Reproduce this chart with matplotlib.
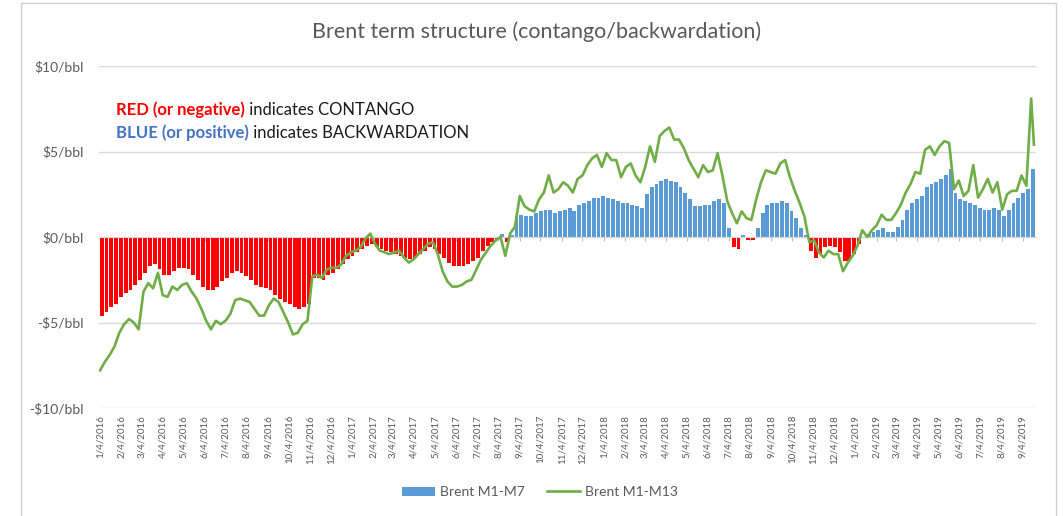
import matplotlib
matplotlib.use("Agg")
import matplotlib.pyplot as plt
import matplotlib.dates as mdates
import pandas as pd
from matplotlib.patches import Patch, Rectangle
from matplotlib.lines import Line2D

plt.rcParams['font.family'] = ['Lato', 'DejaVu Sans']

# weekly readings, $/bbl, first week starts Mon 2016-01-04
m1_m7 = [
    -4.6, -4.4, -4.1, -3.9, -3.5, -3.3, -3.1, -2.8, -2.5, -2.1,
    -1.7, -1.6, -1.9, -2.2, -2.2, -2.0, -1.8, -1.8, -1.9, -2.2,
    -2.5, -2.9, -3.1, -3.1, -2.9, -2.6, -2.4, -2.1, -2.0, -2.1,
    -2.3, -2.5, -2.8, -2.9, -3.0, -3.1, -3.4, -3.6, -3.8, -3.9,
    -4.1, -4.2, -4.1, -3.9, -2.4, -2.4, -2.5, -2.2, -2.1, -1.9,
    -1.6, -1.3, -1.1, -0.9, -0.7, -0.5, -0.4, -0.6, -0.7, -0.8,
    -0.9, -1.0, -1.1, -1.2, -1.3, -1.2, -1.0, -0.8, -0.6, -0.7,
    -1.0, -1.2, -1.5, -1.7, -1.7, -1.7, -1.6, -1.4, -1.2, -0.8,
    -0.5, -0.3, -0.1, 0.2, -0.3, 0.1, 1.2, 1.3, 1.2, 1.2,
    1.4, 1.5, 1.6, 1.6, 1.4, 1.5, 1.6, 1.7, 1.5, 1.9,
    2.0, 2.1, 2.3, 2.3, 2.4, 2.3, 2.2, 2.1, 2.0, 2.0,
    1.9, 1.8, 1.7, 2.5, 2.9, 3.1, 3.3, 3.4, 3.3, 3.2,
    2.9, 2.6, 2.2, 1.8, 1.8, 1.9, 1.9, 2.1, 2.2, 2.0,
    0.5, -0.6, -0.7, 0.1, -0.2, -0.2, 0.5, 1.4, 1.9, 2.0,
    2.0, 2.1, 2.0, 1.5, 1.1, 0.5, 0.1, -0.8, -1.2, -1.0,
    -0.6, -0.5, -0.6, -0.9, -1.4, -1.4, -1.0, -0.4, 0.0, 0.15,
    0.3, 0.4, 0.5, 0.3, 0.3, 0.6, 1.0, 1.6, 2.0, 2.2,
    2.4, 2.9, 3.1, 3.2, 3.4, 3.6, 4.0, 2.6, 2.2, 2.1,
    2.0, 1.9, 1.7, 1.6, 1.6, 1.7, 1.6, 1.2, 1.6, 2.0,
    2.3, 2.6, 2.8, 4.0,
]

m1_m13 = [
    -7.8, -7.3, -6.9, -6.4, -5.6, -5.1, -4.8, -5.0, -5.4, -3.2,
    -2.7, -3.0, -2.1, -3.4, -3.5, -2.9, -3.1, -2.8, -2.7, -3.2,
    -3.6, -4.2, -4.9, -5.4, -4.9, -5.1, -4.9, -4.5, -3.7, -3.6,
    -3.7, -3.8, -4.2, -4.6, -4.6, -4.0, -3.6, -3.8, -4.4, -5.0,
    -5.7, -5.6, -5.1, -4.9, -2.3, -2.2, -2.4, -1.9, -1.8, -1.8,
    -1.6, -1.1, -0.9, -0.8, -0.6, -0.1, 0.2, -0.4, -0.8, -0.9,
    -1.0, -0.9, -0.8, -1.2, -1.5, -1.3, -1.0, -0.7, -0.4, -0.3,
    -1.0, -2.0, -2.6, -2.9, -2.9, -2.8, -2.6, -2.5, -1.9, -1.3,
    -0.9, -0.5, -0.2, 0.0, -1.1, 0.2, 0.6, 2.4, 1.8, 1.6,
    1.5, 2.2, 2.6, 3.6, 2.6, 2.8, 3.2, 3.0, 2.6, 3.4,
    3.6, 4.2, 4.6, 4.8, 4.1, 4.9, 4.5, 4.5, 3.5, 4.1,
    4.3, 3.6, 3.2, 4.1, 5.3, 4.4, 5.9, 6.2, 6.4, 5.7,
    5.7, 5.2, 4.5, 4.0, 3.5, 4.2, 3.8, 3.9, 4.9, 3.6,
    2.1, 1.4, 0.8, 1.5, 1.1, 1.0, 2.2, 3.2, 3.9, 3.8,
    3.7, 4.3, 4.5, 3.5, 2.7, 2.0, 1.2, -0.3, -0.2, -0.9,
    -1.2, -0.8, -1.0, -1.0, -2.0, -1.5, -1.1, -0.5, 0.4, 0.0,
    0.4, 0.7, 1.3, 1.0, 1.0, 1.4, 1.9, 2.6, 3.1, 3.8,
    3.7, 5.1, 5.3, 4.8, 5.3, 5.6, 5.5, 2.8, 3.3, 2.4,
    2.7, 4.2, 2.3, 2.8, 3.4, 2.6, 3.2, 1.6, 2.5, 2.7,
    2.7, 3.6, 3.0, 8.1, 5.4,
]

week_start = pd.date_range("2016-01-04", periods=len(m1_m7), freq="7D")
line_dates = list(week_start) + [pd.Timestamp("2019-09-20")]
month_ticks = pd.date_range("2016-01-04", "2019-09-04", freq=pd.DateOffset(months=1))
month_labels = [f"{d.month}/{d.day}/{d.year}" for d in month_ticks]

y_ticks = [-10, -5, 0, 5, 10]
y_labels = [f"-${abs(v)}/bbl" if v < 0 else f"${v}/bbl" for v in y_ticks]

BLUE = "#5B9BD5"
RED = "#FF0000"
GREEN = "#70AD47"
GREY = "#595959"

W, H = 1063, 516
fig = plt.figure(figsize=(W / 100, H / 100), dpi=100)
ax = fig.add_axes([99 / W, 1 - 408 / H, (1036 - 99) / W, (408 - 66) / H])

bar_x = mdates.date2num(week_start) - 0.5
bar_colors = [RED if v < 0 else BLUE for v in m1_m7]
ax.bar(bar_x, m1_m7, width=5.6, align="edge", color=bar_colors, linewidth=0, zorder=2)
ax.plot(mdates.date2num(line_dates), m1_m13, color=GREEN, lw=1.9, zorder=3)

ax.set_ylim(-10, 10)
ax.set_xlim(mdates.date2num(pd.Timestamp("2016-01-02 12:00")),
            mdates.date2num(pd.Timestamp("2019-09-23")))
ax.set_yticks(y_ticks, labels=y_labels)
ax.tick_params(axis="y", length=0, pad=11, labelsize=10, labelcolor=GREY)
ax.yaxis.grid(True, color="#D9D9D9", lw=1)
ax.set_axisbelow(True)

for s in ["left", "right", "top"]:
    ax.spines[s].set_visible(False)
ax.spines["bottom"].set_position(("data", 0))
ax.spines["bottom"].set_color("#D9D9D9")
ax.set_xticks(mdates.date2num(month_ticks))
ax.tick_params(axis="x", length=3, width=0.8, color="#BFBFBF", labelbottom=False)

sec = ax.secondary_xaxis(0.0)
sec.set_xticks(mdates.date2num(month_ticks), labels=month_labels)
sec.tick_params(length=0, pad=5, labelsize=7, labelcolor=GREY, labelrotation=90)
sec.spines["bottom"].set_visible(False)

fig.text(537 / W, 1 - 32 / H, "Brent term structure (contango/backwardation)",
         ha="center", va="center", fontsize=15.5, color=GREY)

# two-coloured note lines
renderer = fig.canvas.get_renderer()
for y_px, bold_part, rest, col in [(115, "RED (or negative)", " indicates CONTANGO", RED),
                                   (138, "BLUE (or positive)", " indicates BACKWARDATION", "#4472C4")]:
    t = fig.text(116 / W, 1 - y_px / H, bold_part, color=col, fontweight="bold",
                 fontsize=12, va="baseline")
    bb = t.get_window_extent(renderer)
    fig.text(bb.x1 / W, 1 - y_px / H, rest, color="#1A1A1A", fontsize=12, va="baseline")

handles = [Patch(facecolor=BLUE, edgecolor="none"), Line2D([], [], color=GREEN, lw=1.9)]
fig.legend(handles, ["Brent M1-M7", "Brent M1-M13"], loc="center",
           bbox_to_anchor=(540 / W, 1 - 492 / H), ncol=2, frameon=False,
           fontsize=10, labelcolor=GREY, handlelength=2.4, handleheight=0.6,
           handletextpad=0.35, columnspacing=1.6)

fig.add_artist(Rectangle((21 / W, -0.05), (1056 - 21) / W, 1.05 - 3 / H,
                         transform=fig.transFigure, fill=False,
                         edgecolor="#D0D0D0", lw=1))

fig.savefig("out.png", dpi=100)
